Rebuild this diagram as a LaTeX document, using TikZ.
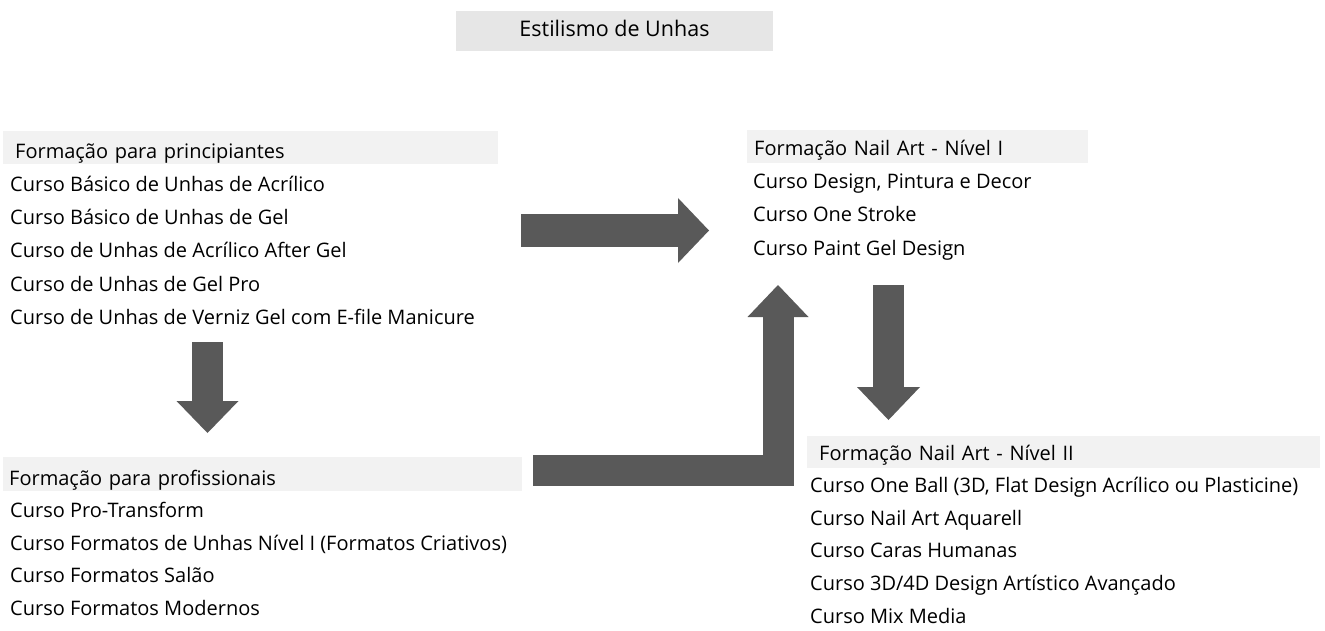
\documentclass[tikz,border=0pt]{standalone}
\usepackage{fontspec}
\setmainfont{Open Sans}[Ligatures=NoCommon]
\usetikzlibrary{arrows.meta}
\definecolor{arrowgray}{HTML}{595959}
\definecolor{titlegray}{HTML}{E6E6E6}
\definecolor{headgray}{HTML}{F2F2F2}
\tikzset{
  item/.style={anchor=base west, inner sep=0pt},
  header/.style={fill=headgray, anchor=base west, inner ysep=0pt, align=left},
  bigarrow/.style={draw=arrowgray, line width=#1, line join=miter}
}
\begin{document}
\begin{tikzpicture}[x=1pt, y=-1pt, font=\fontsize{20}{22}\selectfont]
        \useasboundingbox (0,0) rectangle (1325,631);
        % Titulo
        \node[fill=titlegray, anchor=base, inner sep=0pt, minimum width=317pt,
              font=\fontsize{21.5}{24}\selectfont,
              text height=26pt, text depth=14pt] (title) at (614.5,37) {Estilismo de Unhas};
        % Formacao para principiantes
        \node[header, inner xsep=12pt, text width=471pt, text height=28pt, text depth=5pt]
              (beg) at (3,159) {Formação para principiantes};
        \foreach \txt [count=\i] in {Curso Básico de Unhas de Acrílico,
                                      Curso Básico de Unhas de Gel,
                                      Curso de Unhas de Acrílico After Gel,
                                      Curso de Unhas de Gel Pro,
                                      Curso de Unhas de Verniz Gel com E-file Manicure}
            \node[item] (b\i) at (10,159+33*\i) {\txt};
        % Formacao para profissionais
        \node[header, inner xsep=6pt, text width=507pt, text height=28pt, text depth=6pt]
              (pro) at (3,485) {Formação para profissionais};
        \foreach \txt [count=\i] in {Curso Pro-Transform,
                                      Curso Formatos de Unhas Nível I (Formatos Criativos),
                                      Curso Formatos Salão,
                                      Curso Formatos Modernos}
            \node[item] (p\i) at (10,485+32.5*\i) {\txt};
        % Nail Art nivel I
        \node[header, inner xsep=7pt, text width=327pt, text height=26pt, text depth=7pt]
              (na1) at (747,156) {Formação Nail Art - Nível I};
        \foreach \txt [count=\i] in {{Curso Design, Pintura e Decor},
                                      Curso One Stroke,
                                      Curso Paint Gel Design}
            \node[item] (n\i) at (753,156+33*\i) {\txt};
        % Nail Art nivel II
        \node[header, inner xsep=12pt, text width=489pt, text height=24pt, text depth=8pt]
              (nb2) at (807,460) {Formação Nail Art - Nível II};
        \foreach \txt [count=\i] in {{Curso One Ball (3D, Flat Design Acrílico ou Plasticine)},
                                      Curso Nail Art Aquarell,
                                      Curso Caras Humanas,
                                      Curso 3D/4D Design Artístico Avançado,
                                      Curso Mix Media}
            \node[item] (m\i) at (810,460+32.6*\i) {\txt};
        % Pontos das setas
        \coordinate (begout) at (207.5,342);
        \coordinate (proin)  at (207.5,433);
        \coordinate (begright) at (521,230.5);
        \coordinate (na1left)  at (709,230.5);
        \coordinate (proright) at (533,470.5);
        \coordinate (na1below) at (778,285);
        \coordinate (na1out) at (888.5,285);
        \coordinate (nb2in)  at (888.5,420);
        % Setas
        \draw[bigarrow=31pt, -{Triangle[length=32pt,width=62pt,line width=0pt]}] (begout) -- (proin);
        \draw[bigarrow=33pt, -{Triangle[length=31pt,width=65pt,line width=0pt]}] (begright) -- (na1left);
        \draw[bigarrow=31pt, -{Triangle[length=32pt,width=61pt,line width=0pt]}] (proright) -| (na1below);
        \draw[bigarrow=31pt, -{Triangle[length=33pt,width=63pt,line width=0pt]}] (na1out) -- (nb2in);
\end{tikzpicture}
\end{document}
